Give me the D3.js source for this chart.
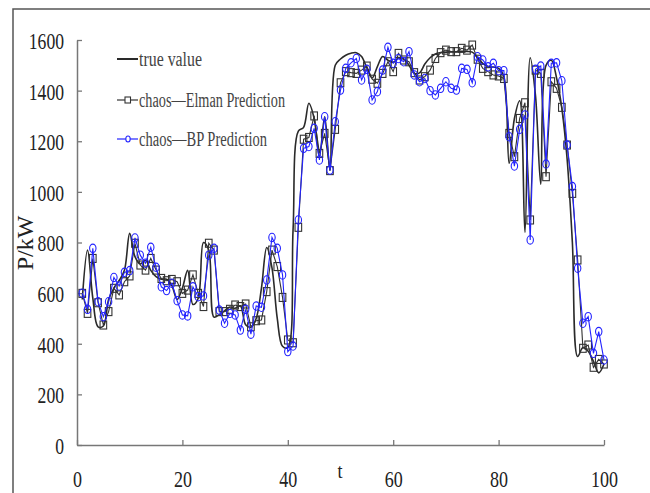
<!DOCTYPE html>
<html>
<head>
<meta charset="utf-8">
<script src="https://cdn.jsdelivr.net/npm/d3@7"></script>
<style>
  body { margin: 0; background: #fff; }
  svg { display: block; }
  .tickText { font-family: "Liberation Serif", "DejaVu Serif", serif; fill: #222; }
</style>
</head>
<body>
<svg id="chart" width="650" height="493"></svg>
<script>
const tValues = d3.range(1, 101);

const trueValue = [
  575, 770, 580, 467, 470, 575, 620, 650, 690, 836,
  744, 715, 730, 690, 665, 655, 655, 630, 575, 620,
  690, 555, 580, 800, 770, 505, 515, 530, 545, 540,
  550, 475, 465, 500, 620, 780, 700, 500, 390, 385,
  850, 1240, 1255, 1350, 1290, 1140, 1297, 1086, 1500, 1525,
  1540, 1548, 1550, 1535, 1490, 1450, 1495, 1535, 1520, 1512,
  1528, 1525, 1500, 1468, 1470, 1505, 1530, 1545, 1550, 1552,
  1553, 1553, 1555, 1555, 1552, 1530, 1508, 1495, 1493, 1488,
  1455, 1113, 1290, 1360, 840, 1530, 1380, 1030, 1500, 1520,
  1450, 1330, 1130, 800, 350, 385, 370, 330, 285, 320
];

const elmanPred = [
  599, 520, 737, 562, 474, 527, 619, 593, 645, 668,
  797, 711, 691, 737, 691, 658, 649, 654, 645, 599,
  612, 672, 599, 547, 797, 770, 527, 527, 536, 553,
  547, 557, 467, 491, 494, 606, 770, 705, 583, 415,
  404, 860, 1208, 1215, 1300, 1152, 1231, 1084, 1247, 1431,
  1475, 1471, 1468, 1481, 1497, 1445, 1429, 1468, 1514, 1475,
  1547, 1521, 1514, 1471, 1442, 1455, 1481, 1527, 1550, 1560,
  1554, 1554, 1567, 1560, 1580, 1524, 1488, 1475, 1462, 1458,
  1448, 1231, 1139, 1290, 1352, 889, 1481, 1468, 1060, 1435,
  1409, 1334, 1185, 994, 731, 382, 395, 307, 338, 320
];

const bpPred = [
  600, 536, 777, 566, 507, 566, 662, 628, 682, 689,
  818, 750, 718, 781, 702, 625, 610, 639, 570, 514,
  510, 625, 586, 589, 750, 777, 533, 481, 520, 514,
  454, 536, 438, 549, 544, 652, 820, 777, 672, 369,
  391, 889, 1172, 1179, 1251, 1126, 1297, 1086, 1277, 1402,
  1488, 1510, 1527, 1442, 1484, 1363, 1396, 1481, 1571, 1508,
  1527, 1514, 1554, 1462, 1435, 1448, 1400, 1383, 1409, 1435,
  1409, 1402, 1488, 1484, 1431, 1534, 1521, 1494, 1508, 1479,
  1479, 1218, 1102, 1247, 1304, 810, 1484, 1497, 1110, 1508,
  1510, 1439, 1185, 1021, 698, 481, 507, 362, 448, 336
];

const xTicks = [0, 20, 40, 60, 80, 100];
const yTicks = [0, 200, 400, 600, 800, 1000, 1200, 1400, 1600];
const legendLabels = ['true value', 'chaos\u2014Elman Prediction', 'chaos\u2014BP Prediction'];

const svg = d3.select('#chart');

// outer frame (runs off the right and bottom edges)
svg.append('rect')
  .attr('x', 13).attr('y', 9)
  .attr('width', 700).attr('height', 600)
  .attr('fill', 'none')
  .attr('stroke', '#555')
  .attr('stroke-width', 1.5);

const xscale = d3.scaleLinear().domain([0, 100]).range([77, 604]);
const yscale = d3.scaleLinear().domain([0, 1600]).range([445, 40]);

// axes
const leftAxis = d3.axisLeft(yscale)
  .tickValues(yTicks)
  .tickFormat(d3.format('d'))
  .tickSize(-5)
  .tickSizeOuter(0);
const gy = svg.append('g').attr('transform', `translate(${xscale(0)},0)`).call(leftAxis);

const bottomAxis = d3.axisBottom(xscale)
  .tickValues(xTicks)
  .tickFormat(d3.format('d'))
  .tickSize(-5)
  .tickSizeOuter(0);
const gx = svg.append('g').attr('transform', `translate(0,${yscale(0)})`).call(bottomAxis);

[gx, gy].forEach((g) => {
  g.select('.domain').attr('stroke', '#777').attr('stroke-width', 1.5);
  g.selectAll('.tick line').attr('stroke', '#777').attr('stroke-width', 1.3);
});

gy.selectAll('.tick text')
  .attr('class', 'tickText')
  .attr('x', -13)
  .attr('dy', '0.35em')
  .style('font-size', '24px')
  .attr('textLength', (d) => String(d).length * 8.8)
  .attr('lengthAdjust', 'spacingAndGlyphs');

gx.selectAll('.tick text')
  .attr('class', 'tickText')
  .attr('y', 42)
  .attr('dy', 0)
  .style('font-size', '24px')
  .attr('textLength', (d) => String(d).length * 9)
  .attr('lengthAdjust', 'spacingAndGlyphs');

// axis titles
svg.append('text')
  .attr('class', 'tickText')
  .attr('transform', 'translate(33,243) rotate(-90)')
  .attr('text-anchor', 'middle')
  .style('font-size', '24px')
  .text('P/kW');

svg.append('text')
  .attr('class', 'tickText')
  .attr('x', 340).attr('y', 478)
  .attr('text-anchor', 'middle')
  .style('font-size', '20px')
  .attr('textLength', 5)
  .attr('lengthAdjust', 'spacingAndGlyphs')
  .text('t');

// series
const trueData = tValues.map((t, i) => ({ t, v: trueValue[i] }));
const elmanData = tValues.map((t, i) => ({ t, v: elmanPred[i] }));
const bpData = tValues.map((t, i) => ({ t, v: bpPred[i] }));

const smoothLine = d3.line()
  .x((d) => xscale(d.t))
  .y((d) => yscale(d.v))
  .curve(d3.curveCatmullRom.alpha(0.5));

const straightLine = d3.line()
  .x((d) => xscale(d.t))
  .y((d) => yscale(d.v));

const elmanColor = '#333';
const bpColor = '#2323ff';

svg.append('path')
  .datum(trueData)
  .attr('d', smoothLine)
  .attr('fill', 'none')
  .attr('stroke', '#2a2a2a')
  .attr('stroke-width', 1.6);

svg.append('path')
  .datum(elmanData)
  .attr('d', straightLine)
  .attr('fill', 'none')
  .attr('stroke', elmanColor)
  .attr('stroke-width', 1.1);

svg.append('g')
  .selectAll('rect')
  .data(elmanData)
  .enter()
  .append('rect')
  .attr('x', (d) => xscale(d.t) - 3.3)
  .attr('y', (d) => yscale(d.v) - 4)
  .attr('width', 6.6)
  .attr('height', 8)
  .attr('fill', 'none')
  .attr('stroke', elmanColor)
  .attr('stroke-width', 1.1);

svg.append('path')
  .datum(bpData)
  .attr('d', straightLine)
  .attr('fill', 'none')
  .attr('stroke', bpColor)
  .attr('stroke-width', 1.1);

svg.append('g')
  .selectAll('ellipse')
  .data(bpData)
  .enter()
  .append('ellipse')
  .attr('cx', (d) => xscale(d.t))
  .attr('cy', (d) => yscale(d.v))
  .attr('rx', 3.2)
  .attr('ry', 4.2)
  .attr('fill', 'none')
  .attr('stroke', bpColor)
  .attr('stroke-width', 1.1);

// legend
const legendY = [59, 100, 139];
const legendWidths = [63, 146, 128];
const legend = svg.append('g');

legend.selectAll('line')
  .data(legendLabels)
  .enter()
  .append('line')
  .attr('x1', 117).attr('x2', 138)
  .attr('y1', (d, i) => legendY[i]).attr('y2', (d, i) => legendY[i])
  .attr('stroke', (d, i) => (i === 2 ? bpColor : i === 1 ? elmanColor : '#2a2a2a'))
  .attr('stroke-width', (d, i) => (i === 0 ? 2 : 1.2));

legend.append('rect')
  .attr('x', 125).attr('y', legendY[1] - 3)
  .attr('width', 5.5).attr('height', 6)
  .attr('fill', '#fff')
  .attr('stroke', elmanColor)
  .attr('stroke-width', 1.1);

legend.append('ellipse')
  .attr('cx', 128).attr('cy', legendY[2])
  .attr('rx', 2.2).attr('ry', 3)
  .attr('fill', '#fff')
  .attr('stroke', bpColor)
  .attr('stroke-width', 1.1);

legend.selectAll('text')
  .data(legendLabels)
  .enter()
  .append('text')
  .attr('class', 'tickText')
  .attr('x', 139)
  .attr('y', (d, i) => legendY[i] + 7)
  .style('font-size', '20px')
  .style('fill', '#444')
  .attr('textLength', (d, i) => legendWidths[i])
  .attr('lengthAdjust', 'spacingAndGlyphs')
  .text((d) => d);
</script>
</body>
</html>
